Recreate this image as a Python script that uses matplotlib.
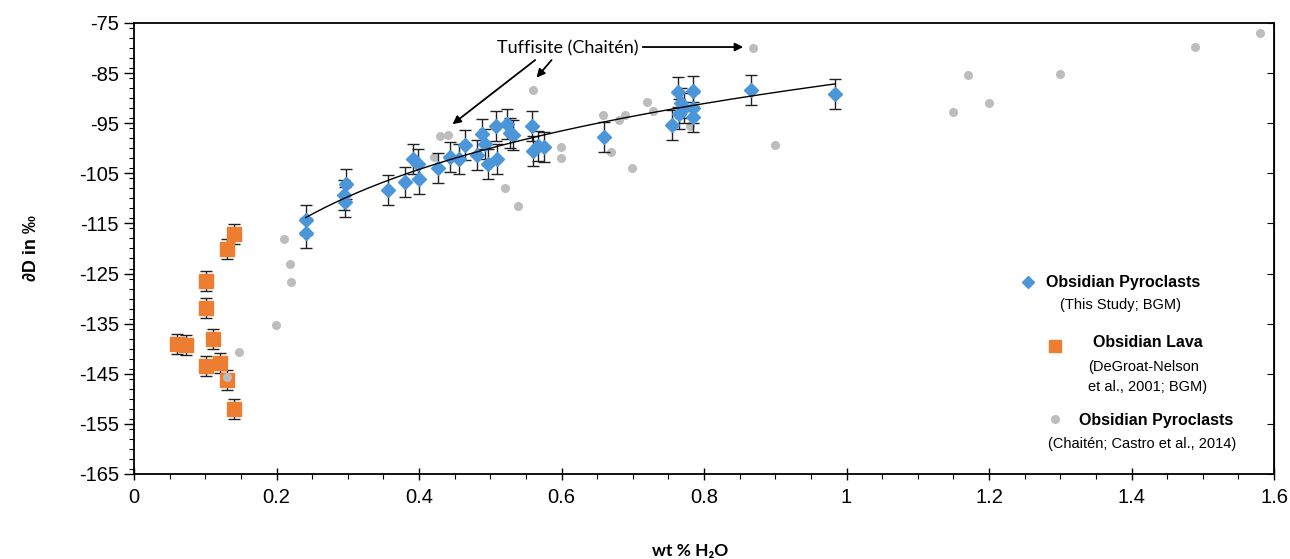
import numpy as np
import matplotlib
matplotlib.use('Agg')
import matplotlib.pyplot as plt
from matplotlib.ticker import MultipleLocator, FuncFormatter

plt.rcParams['font.family'] = ['Liberation Sans', 'DejaVu Sans']
plt.rcParams['axes.unicode_minus'] = False

# Obsidian pyroclasts (this study; BGM)
pyro_x = [0.241, 0.241, 0.298, 0.295, 0.296, 0.356, 0.381, 0.392, 0.398, 0.400,
          0.426, 0.444, 0.456, 0.465, 0.482, 0.488, 0.493, 0.497, 0.509, 0.508,
          0.524, 0.527, 0.532, 0.559, 0.560, 0.567, 0.575, 0.660, 0.755, 0.763,
          0.767, 0.765, 0.772, 0.785, 0.785, 0.785, 0.866, 0.984]
pyro_y = [-114.3, -116.9, -107.1, -109.3, -110.8, -108.3, -106.7, -102.2, -103.2, -106.1,
          -103.9, -101.7, -102.1, -99.3, -101.3, -97.1, -99.2, -103.1, -102.1, -95.5,
          -95.2, -97.0, -97.3, -95.5, -100.5, -99.5, -99.8, -97.7, -95.4, -88.7,
          -90.9, -93.2, -92.0, -88.6, -91.9, -93.7, -88.4, -89.1]
pyro_err = 3.0

# Obsidian lava (DeGroat-Nelson et al., 2001; BGM)
lava_x = [0.141, 0.131, 0.101, 0.101, 0.111, 0.061, 0.073, 0.101, 0.121, 0.131, 0.141]
lava_y = [-117.2, -120.2, -126.4, -131.8, -138.0, -139.0, -139.3, -143.5, -142.9, -146.3, -152.0]
lava_err = 2.0

# Obsidian pyroclasts (Chaitén; Castro et al., 2014)
chaiten_x = [0.131, 0.148, 0.199, 0.211, 0.219, 0.220, 0.421, 0.429, 0.440, 0.520,
             0.539, 0.560, 0.599, 0.599, 0.658, 0.670, 0.680, 0.689, 0.699, 0.720,
             0.729, 0.780, 0.869, 0.900, 1.149, 1.170, 1.200, 1.300, 1.489, 1.580]
chaiten_y = [-145.7, -140.7, -135.2, -118.1, -123.1, -126.6, -101.7, -97.6, -97.3, -108.0,
             -111.5, -88.3, -99.8, -102.0, -93.3, -100.8, -94.4, -93.4, -104.0, -90.7,
             -92.5, -95.5, -80.0, -99.4, -92.8, -85.4, -90.9, -85.1, -79.8, -77.1]

BLUE = '#4a96d8'
ORANGE = '#ed7d31'
GREY = '#bdbdbd'

fig = plt.figure(figsize=(12.9, 5.59), dpi=100)
ax = fig.add_axes([0.1039, 0.1521, 0.8837, 0.8068])

ax.errorbar(lava_x, lava_y, yerr=lava_err, fmt='s', color=ORANGE, ms=10,
            ecolor='#222222', elinewidth=1, capsize=4.5, capthick=1, zorder=2)
ax.plot(chaiten_x, chaiten_y, 'o', color=GREY, ms=5.5, zorder=3)
ax.errorbar(pyro_x, pyro_y, yerr=pyro_err, fmt='D', color=BLUE, ms=7,
            ecolor='#222222', elinewidth=1, capsize=4.5, capthick=1, zorder=4)

# logarithmic trend line through this study's pyroclasts
b, a = np.polyfit(np.log(pyro_x), pyro_y, 1)
fit_x = np.linspace(min(pyro_x), max(pyro_x), 200)
ax.plot(fit_x, a + b * np.log(fit_x), color='black', lw=1, zorder=5)

ax.set_xlim(0, 1.6)
ax.set_ylim(-165, -75)
ax.xaxis.set_major_locator(MultipleLocator(0.2))
ax.xaxis.set_minor_locator(MultipleLocator(0.05))
ax.yaxis.set_minor_locator(MultipleLocator(2))
ax.set_yticks(np.arange(-165, -74, 10))
ax.xaxis.set_major_formatter(FuncFormatter(lambda v, p: f'{v:g}'))
ax.tick_params(axis='both', which='major', labelsize=14.5, width=1)
ax.tick_params(axis='y', which='major', direction='out', length=7, pad=4)
ax.tick_params(axis='y', which='minor', direction='out', length=3.5, width=0.8)
ax.tick_params(axis='x', which='major', direction='inout', length=8, pad=6)
ax.tick_params(axis='x', which='minor', direction='out', length=3.5, width=0.8)
for s in ax.spines.values():
    s.set_linewidth(1.3)

right = ax.secondary_yaxis('right')
right.set_yticks(np.arange(-165, -74, 10))
right.tick_params(direction='in', length=5, labelright=False)

ax.set_ylabel('∂D in ‰', fontsize=13, fontweight='bold', labelpad=28)
ax.set_xlabel('wt % H₂O', fontsize=12.5, fontweight='bold',
              family=['Lato', 'DejaVu Sans'], labelpad=26, x=0.488)

# annotation
ax.text(0.609, -80.0, 'Tuffisite (Chaitén)', fontsize=13, ha='center', va='center',
        family=['Lato', 'DejaVu Sans'])
arrow = dict(arrowstyle='-|>', color='black', lw=1.3, mutation_scale=12,
             shrinkA=0, shrinkB=0)
ax.annotate('', xy=(0.447, -95.2), xytext=(0.563, -82.4), arrowprops=arrow)
ax.annotate('', xy=(0.565, -85.9), xytext=(0.586, -82.4), arrowprops=arrow)
ax.annotate('', xy=(0.855, -79.8), xytext=(0.714, -79.8), arrowprops=arrow)

# legend built from text
ax.plot([1.255], [-126.7], 'D', color=BLUE, ms=6.5, clip_on=False)
ax.text(1.280, -126.7, 'Obsidian Pyroclasts', fontsize=11.5, fontweight='bold', va='center')
ax.text(1.384, -131.3, '(This Study; BGM)', fontsize=10.5, ha='center', va='center')
ax.plot([1.293], [-139.4], 's', color=ORANGE, ms=9)
ax.text(1.346, -138.7, 'Obsidian Lava', fontsize=11.5, fontweight='bold', va='center')
ax.text(1.339, -143.7, '(DeGroat-Nelson', fontsize=10.5, va='center')
ax.text(1.339, -147.7, 'et al., 2001; BGM)', fontsize=10.5, va='center')
ax.plot([1.293], [-154.1], 'o', color=GREY, ms=5.5)
ax.text(1.327, -154.3, 'Obsidian Pyroclasts', fontsize=11.5, fontweight='bold', va='center')
ax.text(1.283, -159.1, '(Chaitén; Castro et al., 2014)', fontsize=10.5, va='center')

fig.savefig('out.png', dpi=100)
